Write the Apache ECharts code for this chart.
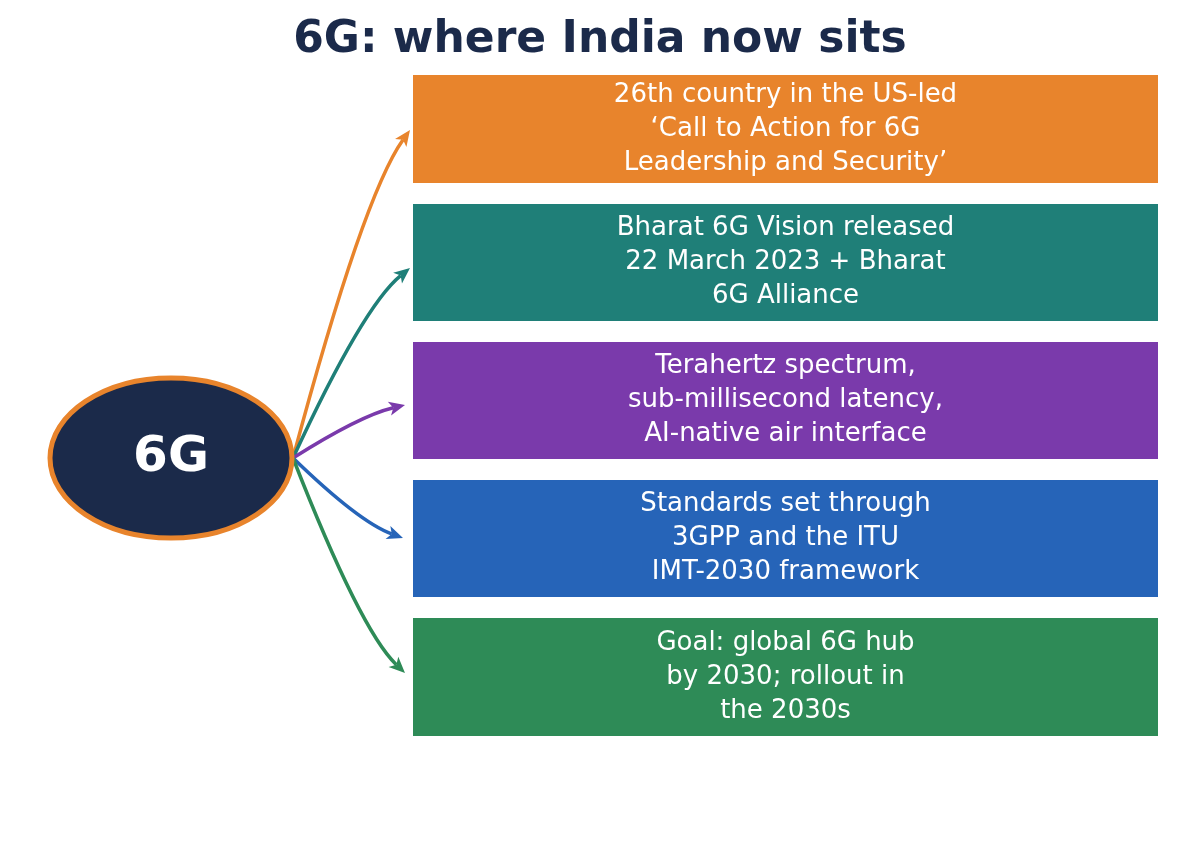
<!DOCTYPE html>
<html><head><meta charset="utf-8">
<script src="https://cdn.jsdelivr.net/npm/echarts@6/dist/echarts.min.js"></script>
<style>html,body{margin:0;padding:0;background:#fff}#c{width:1200px;height:863px}</style>
</head><body><div id="c"></div>
<script>
const titleText = '6G: where India now sits';
const hubLabel = '6G';
const boxTexts = [
  '26th country in the US-led\n\u2018Call to Action for 6G\nLeadership and Security\u2019',
  'Bharat 6G Vision released\n22 March 2023 + Bharat\n6G Alliance',
  'Terahertz spectrum,\nsub-millisecond latency,\nAI-native air interface',
  'Standards set through\n3GPP and the ITU\nIMT-2030 framework',
  'Goal: global 6G hub\nby 2030; rollout in\nthe 2030s'
];
const boxColors = ['#e8842c', '#1f7f78', '#7a3aab', '#2664b8', '#2e8b57'];

// layout (pixel space of hidden axes)
const boxTops = [75, 204, 342, 480, 618];
const boxHeights = [108, 117, 117, 117, 118];
const boxLeft = 413, boxRight = 1158;
const arrowEnds = [[410,130],[410,268],[405,405],[403,538],[405,673]];
const hub = {cx:171, cy:458, rx:121, ry:80};
const start = [293, 458];

const chart = echarts.init(document.getElementById('c'));
const font = 'DejaVu Sans';

function renderBox(params, api) {
  const i = api.value(0);
  const p1 = api.coord([boxLeft, boxTops[i]]);
  const p2 = api.coord([boxRight, boxTops[i] + boxHeights[i]]);
  return {
    type: 'group',
    children: [
      {type:'rect', shape:{x:p1[0], y:p1[1], width:p2[0]-p1[0], height:p2[1]-p1[1]}, style:{fill:boxColors[i]}},
      {type:'text', x:(p1[0]+p2[0])/2, y:(p1[1]+p2[1])/2,
        style:{text:boxTexts[i], fill:'#fff', font:'26px "'+font+'"', align:'center', verticalAlign:'middle', lineHeight:34}}
    ]
  };
}

function renderArrow(params, api) {
  const i = api.value(0);
  const S = api.coord(start);
  const E = api.coord(arrowEnds[i]);
  const dx = E[0]-S[0], dy = E[1]-S[1];
  const C = [S[0]+0.6*dx, S[1]+0.8*dy];
  let tx = E[0]-C[0], ty = E[1]-C[1];
  const L = Math.hypot(tx, ty); tx/=L; ty/=L;
  const nx = -ty, ny = tx;
  const al = 16, aw = 7;
  const base = [E[0]-tx*al, E[1]-ty*al];
  return {
    type:'group',
    children:[
      {type:'bezierCurve', shape:{x1:S[0], y1:S[1], x2:base[0]+tx*4, y2:base[1]+ty*4, cpx1:C[0], cpy1:C[1]},
        style:{stroke:boxColors[i], lineWidth:3.5, fill:null}},
      {type:'polygon', shape:{points:[[E[0],E[1]],[base[0]+nx*aw, base[1]+ny*aw],[base[0]+tx*4, base[1]+ty*4],[base[0]-nx*aw, base[1]-ny*aw]]},
        style:{fill:boxColors[i]}}
    ]
  };
}

function renderHub(params, api) {
  const c = api.coord([hub.cx, hub.cy]);
  return {
    type:'group',
    children:[
      {type:'ellipse', shape:{cx:c[0], cy:c[1], rx:hub.rx, ry:hub.ry}, style:{fill:'#1b2a4a', stroke:'#e8842c', lineWidth:5}},
      {type:'text', x:c[0], y:c[1], style:{text:hubLabel, fill:'#fff', font:'bold 50px "'+font+'"', align:'center', verticalAlign:'middle'}}
    ]
  };
}

const idx = boxTexts.map((_, i) => [i]);
chart.setOption({
  animation:false,
  title:{text:titleText, left:'center', top:14, textStyle:{fontFamily:font, fontWeight:'bold', fontSize:44, color:'#1b2a4a'}},
  grid:{left:0, right:0, top:0, bottom:0},
  xAxis:{type:'value', min:0, max:1200, show:false},
  yAxis:{type:'value', min:0, max:863, inverse:true, show:false},
  series:[
    {type:'custom', renderItem:renderBox, data:idx, silent:true},
    {type:'custom', renderItem:renderArrow, data:idx, silent:true},
    {type:'custom', renderItem:renderHub, data:[[0]], silent:true}
  ]
});
</script></body></html>
